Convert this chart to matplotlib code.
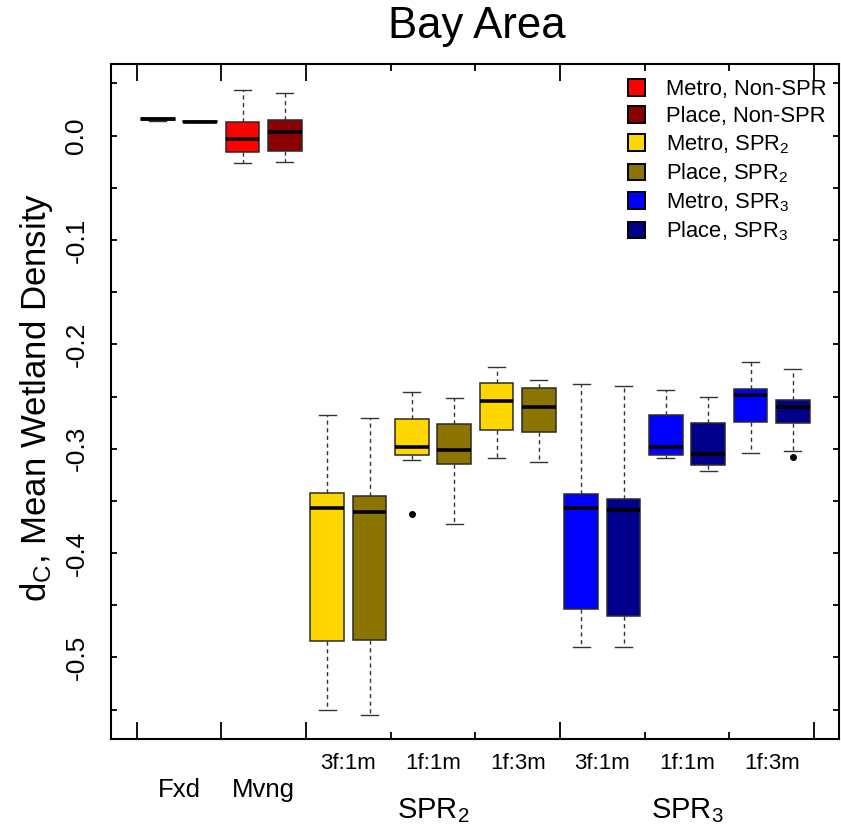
import matplotlib
matplotlib.use("Agg")
import matplotlib.pyplot as plt
from matplotlib.patches import Patch
from matplotlib.ticker import FixedLocator, NullFormatter

plt.rcParams["font.family"] = ["Liberation Sans", "DejaVu Sans"]
plt.rcParams["mathtext.fontset"] = "custom"
plt.rcParams["mathtext.rm"] = "Liberation Sans"
plt.rcParams["mathtext.it"] = "Liberation Sans:italic"
plt.rcParams["mathtext.default"] = "regular"

# ---- data -------------------------------------------------------------
# x groups (left to right); each group holds a Metro box and a Place box
group_labels = ["Fxd", "Mvng", "3f:1m", "1f:1m", "1f:3m", "3f:1m", "1f:1m", "1f:3m"]
section_labels = ["SPR$_2$", "SPR$_3$"]

series_labels = ["Metro, Non-SPR", "Place, Non-SPR",
                 "Metro, SPR$_2$", "Place, SPR$_2$",
                 "Metro, SPR$_3$", "Place, SPR$_3$"]
series_colors = ["#FF0000", "#8B0000", "#FFD700", "#8B7500", "#0000FF", "#00008B"]

# five-number summaries, box order: metro, place for each group in turn
whishi = [0.0172, 0.0136, 0.044, 0.041,
          -0.268, -0.271, -0.246, -0.251, -0.222, -0.234,
          -0.238, -0.240, -0.244, -0.250, -0.217, -0.224]
q3 = [0.0168, 0.0135, 0.013, 0.015,
      -0.342, -0.345, -0.272, -0.276, -0.237, -0.242,
      -0.343, -0.348, -0.268, -0.275, -0.243, -0.253]
med = [0.0162, 0.0133, -0.003, 0.003,
       -0.357, -0.361, -0.298, -0.301, -0.254, -0.260,
       -0.357, -0.359, -0.298, -0.305, -0.249, -0.260]
q1 = [0.0148, 0.0131, -0.016, -0.015,
      -0.484, -0.483, -0.306, -0.315, -0.282, -0.284,
      -0.454, -0.460, -0.306, -0.316, -0.274, -0.275]
whislo = [0.0142, 0.0130, -0.026, -0.025,
          -0.550, -0.555, -0.311, -0.372, -0.309, -0.313,
          -0.490, -0.490, -0.309, -0.321, -0.304, -0.302]
fliers = [[], [], [], [],
          [], [], [-0.363], [], [], [],
          [], [], [], [], [], [-0.308]]

# ---- figure -----------------------------------------------------------
fig = plt.figure(figsize=(8.41, 8.27), dpi=100)
ax = fig.add_axes([0.1316, 0.106, 0.866, 0.8162])

n_groups = len(group_labels)
positions = []
box_colors = []
for g in range(n_groups):
    positions += [g + 0.25, g + 0.75]
    pair = 0 if g < 2 else (1 if g < 5 else 2)
    box_colors += [series_colors[2 * pair], series_colors[2 * pair + 1]]

stats = [dict(med=med[i], q1=q1[i], q3=q3[i], whislo=whislo[i],
              whishi=whishi[i], fliers=fliers[i])
         for i in range(len(med))]

bp = ax.bxp(stats, positions=positions, widths=0.4, capwidths=0.2,
            patch_artist=True, showfliers=True,
            boxprops=dict(edgecolor="#2a2a2a", linewidth=1.1),
            medianprops=dict(color="black", linewidth=2.6, solid_capstyle="butt"),
            whiskerprops=dict(color="#333333", linewidth=1.0, linestyle=(0, (3, 2.5))),
            capprops=dict(color="#333333", linewidth=1.0),
            flierprops=dict(marker="o", markerfacecolor="black",
                            markeredgecolor="black", markersize=4))
for patch, c in zip(bp["boxes"], box_colors):
    patch.set_facecolor(c)

ax.set_xlim(-0.307, 8.295)
ax.set_ylim(-0.5784, 0.0682)

# frame and ticks
for s in ax.spines.values():
    s.set_linewidth(1.5)
ax.xaxis.set_major_locator(FixedLocator([0, 1, 2, 5, 8]))
ax.xaxis.set_minor_locator(FixedLocator([3, 4, 6, 7]))
ax.xaxis.set_major_formatter(NullFormatter())
ax.xaxis.set_minor_formatter(NullFormatter())
ax.tick_params(axis="x", which="major", direction="in", length=12, width=1.3,
               top=True, bottom=True)
ax.tick_params(axis="x", which="minor", direction="in", length=5, width=1.3,
               top=True, bottom=True)

yt = [0.0, -0.1, -0.2, -0.3, -0.4, -0.5]
ax.yaxis.set_major_locator(FixedLocator(yt))
ax.yaxis.set_minor_locator(FixedLocator([0.05, -0.05, -0.15, -0.25, -0.35, -0.45, -0.55]))
ax.set_yticklabels([f"{v:.1f}" for v in yt], rotation=90, va="center", fontsize=19)
ax.tick_params(axis="y", which="both", direction="in", length=4, width=1.3,
               left=True, right=True, pad=16)

# x labels
xtr = ax.get_xaxis_transform()
for g, lab in enumerate(group_labels):
    if g < 2:
        ax.text(g + 0.5, -0.0851, lab, transform=xtr, ha="center",
                va="baseline", fontsize=18.5)
    else:
        ax.text(g + 0.5, -0.0444, lab, transform=xtr, ha="center",
                va="baseline", fontsize=16)
for k, lab in enumerate(section_labels):
    ax.text(3.5 + 3 * k, -0.1166, lab, transform=xtr, ha="center",
            va="baseline", fontsize=21)

# title and y label
fig.text(476.7 / 841, 1 - 38.3 / 827, "Bay Area", ha="center",
         va="baseline", fontsize=31.5)
fig.text(46 / 841, 1 - 397.5 / 827, "d$_C$, Mean Wetland Density",
         rotation=90, rotation_mode="anchor", ha="center", va="baseline",
         fontsize=25)

# legend
handles = [Patch(facecolor=c, edgecolor="black", linewidth=1.4) for c in series_colors]
ax.legend(handles, series_labels, loc="upper left", bbox_to_anchor=(0.710, 0.978),
          frameon=False, fontsize=15.8, borderpad=0, borderaxespad=0,
          handlelength=0.8, handleheight=0.8, handletextpad=0.95,
          labelspacing=0.27)

fig.savefig("out.png", dpi=100)
